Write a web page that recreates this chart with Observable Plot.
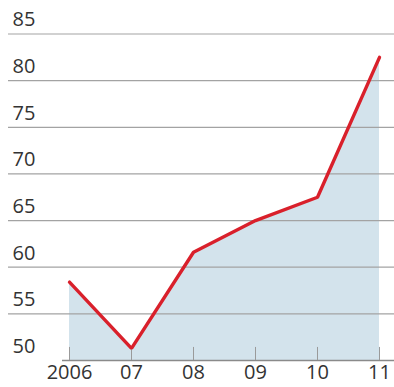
<!DOCTYPE html>
<html>
<head>
<meta charset="utf-8">
<script src="https://cdn.jsdelivr.net/npm/d3@7"></script>
<script src="https://cdn.jsdelivr.net/npm/@observablehq/plot@0.6"></script>
<style>
  html, body { margin: 0; padding: 0; background: #fff; }
  #chart svg { display: block; }
</style>
</head>
<body>
<div id="chart"></div>
<script>
// Yearly index values, 2006–2011
const years = [2006, 2007, 2008, 2009, 2010, 2011];
const values = [58.4, 51.3, 61.6, 65.0, 67.5, 82.5];
const yTicks = [55, 60, 65, 70, 75, 80, 85];
const yLabels = [50, 55, 60, 65, 70, 75, 80, 85];
const xTickLabels = ["2006", "07", "08", "09", "10", "11"];

const data = years.map((year, i) => ({year, value: values[i]}));
const labelOf = new Map(years.map((y, i) => [y, xTickLabels[i]]));

const font = "'Open Sans', sans-serif";

const chart = Plot.plot({
  width: 394,
  height: 387,
  marginLeft: 69,
  marginRight: 15,
  marginTop: 33.5,
  marginBottom: 27,
  style: {fontFamily: font, fontSize: "20px", color: "#333", background: "#fff"},
  x: {type: "linear", domain: [2006, 2011], axis: null},
  y: {domain: [50, 85], axis: null},
  marks: [
    // shaded area under the line
    Plot.areaY(data, {x: "year", y1: 50, y2: "value", fill: "#d3e3ec"}),
    // horizontal gridlines
    Plot.ruleY(yTicks, {stroke: "#a3a3a3", strokeWidth: 1.2, insetLeft: -61, insetRight: -15}),
    // y labels sitting above their gridlines
    Plot.text(yLabels, {
      y: d => d,
      text: d => String(d),
      frameAnchor: "left",
      textAnchor: "start",
      dx: -57,
      dy: -14,
      fill: "#333",
      fontSize: 20
    }),
    // baseline
    Plot.ruleY([50], {stroke: "#8a8a8a", strokeWidth: 1.3, insetLeft: -7, insetRight: -15}),
    // small year ticks rising from the baseline
    Plot.ruleX(years, {x: d => d, y1: 50, y2: 51.4, stroke: "#9a9a9a", strokeWidth: 1}),
    // year labels
    Plot.axisX({
      ticks: years,
      tickSize: 0,
      tickPadding: 4,
      tickFormat: d => labelOf.get(d),
      label: null,
      fontSize: 20,
      fill: "#333"
    }),
    // red line
    Plot.lineY(data, {x: "year", y: "value", stroke: "#d9202b", strokeWidth: 3.4, strokeLinejoin: "miter"})
  ]
});

document.getElementById("chart").append(chart);
</script>
</body>
</html>
